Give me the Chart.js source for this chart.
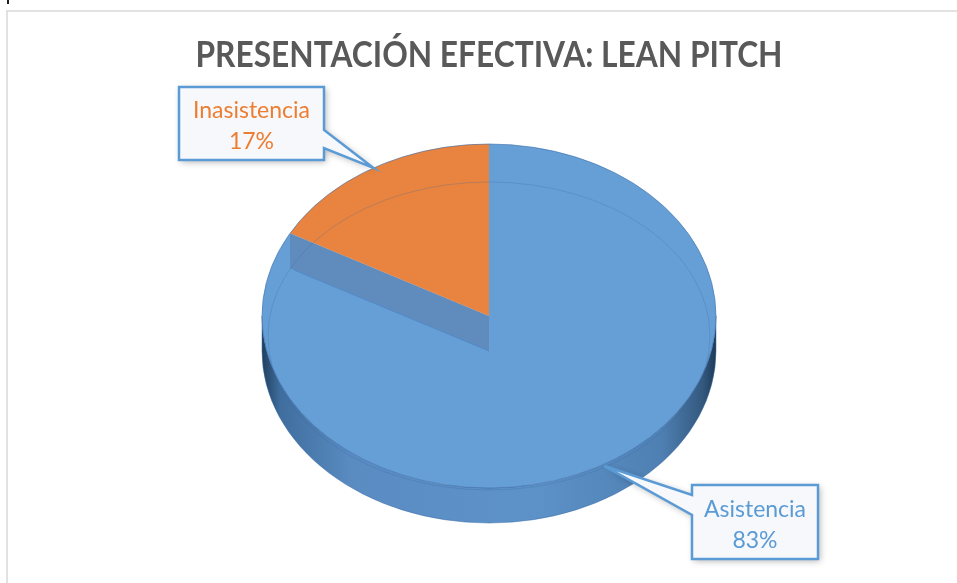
<!DOCTYPE html>
<html>
<head>
<meta charset="utf-8">
<script src="https://cdn.jsdelivr.net/npm/chart.js@4.4.1/dist/chart.umd.min.js"></script>
<style>
  html, body { margin: 0; padding: 0; background: #fff; overflow: hidden; }
  #chart { display: block; }
</style>
</head>
<body>
<canvas id="chart" width="957" height="583"></canvas>
<script>
// data
var labels = ['Asistencia', 'Inasistencia'];
var values = [83, 17];
var colors = ['#669fd6', '#e8843f'];
var textColors = ['#5b9bd5', '#ed7d31'];
var titleText = 'PRESENTACIÓN EFECTIVA: LEAN PITCH';

// where the tilted pie sits on the page
var TX = 489, TY = 316, RX = 227, RY = 172, DEPTH = 35;

// callout boxes: [left, top, right, bottom, pointer base y1, y2, side]
var boxes = [
    [692, 485, 818, 559, 495, 515, 'left'],
    [179, 87, 324, 160, 130, 148, 'right']
];

function ellPt(a, dy) {
    return [TX + RX * Math.cos(a), TY + RY * Math.sin(a) + (dy || 0)];
}

var pie3d = {
    id: 'pie3d',
    beforeDraw: function(chart) {
        var ctx = chart.ctx;
        ctx.save();
        // chart frame
        ctx.strokeStyle = '#d9d9d9';
        ctx.lineWidth = 1.5;
        ctx.beginPath();
        ctx.moveTo(7, 583);
        ctx.lineTo(7, 11);
        ctx.lineTo(957, 11);
        ctx.stroke();
        ctx.fillStyle = '#222';
        ctx.fillRect(7, 0, 2, 4);

        // title, squeezed to the narrow look of the original
        ctx.font = 'bold 37px Lato, "Liberation Sans", sans-serif';
        ctx.fillStyle = '#595959';
        ctx.textAlign = 'left';
        ctx.textBaseline = 'alphabetic';
        var w = ctx.measureText(titleText).width;
        var sx = 587 / w;
        ctx.translate(489 - 587 / 2, 67);
        ctx.scale(sx, 1);
        ctx.fillText(titleText, 0, 0);
        ctx.restore();
    },
    beforeDatasetsDraw: function(chart) {
        var ctx = chart.ctx;
        var arcs = chart.getDatasetMeta(0).data;
        var a0 = arcs[0];

        ctx.save();
        // side wall (front half only)
        var g = ctx.createLinearGradient(TX - RX, 0, TX + RX, 0);
        g.addColorStop(0, '#203f5e');
        g.addColorStop(0.04, '#3f6e9e');
        g.addColorStop(0.2, '#5a8cc2');
        g.addColorStop(0.6, '#5d92c8');
        g.addColorStop(0.88, '#4f80b3');
        g.addColorStop(0.97, '#34597f');
        g.addColorStop(1, '#1e3a57');
        ctx.fillStyle = g;
        ctx.beginPath();
        ctx.ellipse(TX, TY, RX, RY, 0, 0, Math.PI, false);
        ctx.ellipse(TX, TY + DEPTH, RX, RY, 0, Math.PI, 0, true);
        ctx.closePath();
        ctx.fill();
        ctx.strokeStyle = 'rgba(60,110,170,0.5)';
        ctx.lineWidth = 1;
        ctx.stroke();
        ctx.restore();

        // tilt the flat pie into an ellipse
        ctx.save();
        ctx.translate(TX, TY);
        ctx.scale(RX / a0.outerRadius, RY / a0.outerRadius);
        ctx.translate(-a0.x, -a0.y);
    },
    afterDatasetsDraw: function(chart) {
        var ctx = chart.ctx;
        ctx.restore();
        var arcs = chart.getDatasetMeta(0).data;

        ctx.save();
        // cut face of the big slice, seen through
        var a = arcs[1].startAngle;
        var e = ellPt(a);
        ctx.fillStyle = 'rgba(85,115,155,0.42)';
        ctx.beginPath();
        ctx.moveTo(TX, TY);
        ctx.lineTo(e[0], e[1]);
        ctx.lineTo(e[0], e[1] + DEPTH);
        ctx.lineTo(TX, TY + DEPTH);
        ctx.closePath();
        ctx.fill();
        ctx.strokeStyle = 'rgba(70,130,200,0.6)';
        ctx.lineWidth = 1;
        ctx.beginPath();
        ctx.moveTo(e[0] + 4, e[1] + DEPTH + 2);
        ctx.lineTo(TX, TY + DEPTH);
        ctx.stroke();

        // bevel line and rim
        ctx.strokeStyle = 'rgba(50,100,160,0.25)';
        ctx.beginPath();
        ctx.ellipse(TX, TY + 20, RX - 6, RY - 18, 0, 0, Math.PI * 2);
        ctx.stroke();
        ctx.strokeStyle = 'rgba(60,110,170,0.6)';
        ctx.beginPath();
        ctx.ellipse(TX, TY, RX, RY, 0, 0, Math.PI * 2);
        ctx.stroke();
        ctx.restore();

        // callouts
        ctx.save();
        ctx.font = '23px Lato, "Liberation Sans", sans-serif';
        ctx.textAlign = 'center';
        for (var i = 0; i < arcs.length; i++) {
            var b = boxes[i];
            var mid = (arcs[i].startAngle + arcs[i].endAngle) / 2;
            var tip = ellPt(mid, i == 0 ? 2 : 0);
            ctx.beginPath();
            ctx.moveTo(b[0], b[1]);
            if (b[6] == 'right') {
                ctx.lineTo(b[2], b[1]);
                ctx.lineTo(b[2], b[4]);
                ctx.lineTo(tip[0], tip[1]);
                ctx.lineTo(b[2], b[5]);
                ctx.lineTo(b[2], b[3]);
                ctx.lineTo(b[0], b[3]);
            } else {
                ctx.lineTo(b[2], b[1]);
                ctx.lineTo(b[2], b[3]);
                ctx.lineTo(b[0], b[3]);
                ctx.lineTo(b[0], b[5]);
                ctx.lineTo(tip[0], tip[1]);
                ctx.lineTo(b[0], b[4]);
            }
            ctx.closePath();
            ctx.shadowColor = 'rgba(0,0,0,0.3)';
            ctx.shadowBlur = 7;
            ctx.shadowOffsetX = 2;
            ctx.shadowOffsetY = 2;
            ctx.fillStyle = '#f6f8fc';
            ctx.fill();
            ctx.shadowColor = 'transparent';
            ctx.strokeStyle = '#5b9bd5';
            ctx.lineWidth = 2.5;
            ctx.lineJoin = 'miter';
            ctx.stroke();

            var pct = Math.round(values[i] / (values[0] + values[1]) * 100) + '%';
            var cx = (b[0] + b[2]) / 2;
            var h = b[3] - b[1];
            ctx.fillStyle = textColors[i];
            ctx.fillText(labels[i], cx, b[1] + h * 0.43);
            ctx.fillText(pct, cx, b[1] + h * 0.85);
        }
        ctx.restore();
    }
};

new Chart(document.getElementById('chart'), {
    type: 'pie',
    data: {
        labels: labels,
        datasets: [{
            data: values,
            backgroundColor: colors,
            borderWidth: 0,
            clip: false
        }]
    },
    options: {
        responsive: false,
        animation: false,
        layout: { padding: { top: 90 } },
        plugins: {
            legend: { display: false },
            tooltip: { enabled: false },
            title: { display: false }
        }
    },
    plugins: [pie3d]
});
</script>
</body>
</html>
